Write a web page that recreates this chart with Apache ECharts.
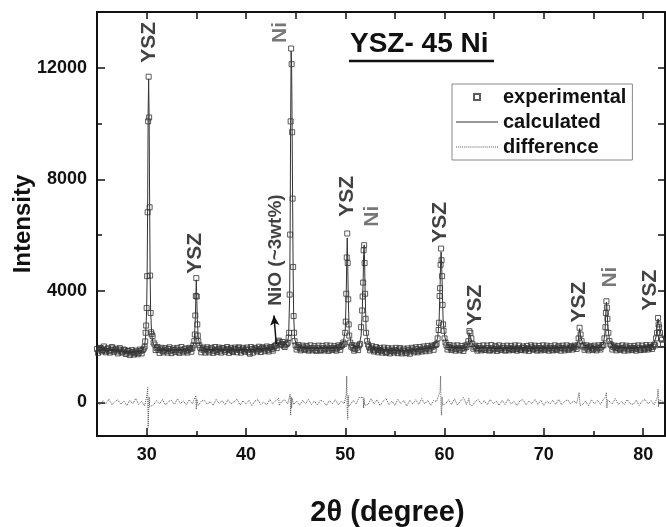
<!DOCTYPE html>
<html>
<head>
<meta charset="utf-8">
<title>YSZ- 45 Ni</title>
<script src="https://cdn.jsdelivr.net/npm/echarts@6/dist/echarts.min.js"></script>
<style>
  html, body { margin: 0; padding: 0; background: #fff; }
  #main { width: 666px; height: 527px; }
</style>
</head>
<body>
<div id="main"></div>
<script>
// experimental scan, read on two interleaved 0.2 deg grids (25.0, 25.2 ... and 25.1, 25.3 ...)
var expStart = 25.0;
var expStart2 = 25.1;
var expStep = 0.2;
var expGrid = [
  1920, 1870, 1950, 1890, 1860,
  1910, 1850, 1880, 1940, 1870,
  1830, 1900, 1860, 1820, 1880,
  1790, 1840, 1760, 1810, 1770,
  1820, 1780, 1850, 1880, 2000,
  3390, 11680, 3210, 2380, 2080,
  1950, 1880, 1910, 1850, 1890,
  1860, 1920, 1840, 1880, 1870,
  1900, 1830, 1890, 1860, 1910,
  1850, 1880, 1920, 1950, 2200,
  4460, 2200, 1960, 1900, 1870,
  1920, 1860, 1890, 1930, 1850,
  1880, 1910, 1860, 1940, 1890,
  1870, 1920, 1880, 1850, 1910,
  1890, 1940, 1870, 1900, 1860,
  1910, 1880, 1750, 1920, 1890,
  1930, 1870, 1910, 1950, 1900,
  1940, 1890, 1960, 1920, 1980,
  2050, 2140, 2180, 2100, 2040,
  2080, 2140, 3870, 12130, 3100,
  2050, 1990, 1960, 1930, 1980,
  1920, 1970, 1900, 1950, 1940,
  1890, 1960, 1930, 1880, 1950,
  1920, 1970, 1900, 1940, 1960,
  1910, 1950, 1990, 2020, 2150,
  2500, 6060, 2400, 2000, 1950,
  1920, 1970, 2050, 2700, 4300,
  3900, 2200, 1990, 1940, 1900,
  1870, 1930, 1880, 1850, 1900,
  1860, 1810, 1890, 1850, 1830,
  1880, 1840, 1900, 1820, 1870,
  1850, 1790, 1880, 1840, 1900,
  1860, 1920, 1850, 1890, 1930,
  1900, 1950, 1910, 1970, 2000,
  2050, 2100, 2600, 4940, 3500,
  2300, 2050, 1990, 1960, 1930,
  1970, 1920, 1960, 1900, 1950,
  1940, 1990, 2200, 2500, 2100,
  2000, 1950, 1910, 1960, 1930,
  1900, 1960, 1940, 1890, 1950,
  1920, 1980, 1930, 1900, 1960,
  1940, 1890, 1960, 1930, 1910,
  1970, 1920, 1950, 1900, 1940,
  1960, 1910, 1950, 1930, 1980,
  1920, 1960, 1900, 1950, 1940,
  1910, 1970, 1930, 1960, 1900,
  1950, 1920, 1980, 1940, 1960,
  1930, 1970, 1910, 1950, 1990,
  1960, 2000, 2050, 2680, 2200,
  2050, 1970, 1930, 1990, 1950,
  1920, 1980, 1940, 1960, 2000,
  2050, 2700, 3000, 2200, 2050,
  1990, 1950, 1970, 1920, 1960,
  1930, 1980, 1940, 1910, 1960,
  1950, 1920, 1970, 1940, 1900,
  1960, 1930, 1980, 1950, 1990,
  2000, 2050, 2500, 2700, 2300,
  2100
];
var expGrid2 = [
  1780, 1960, 1830, 2010, 1800,
  1950, 1790, 1990, 1820, 1930,
  1760, 1950, 1790, 1900, 1740,
  1850, 1700, 1880, 1720, 1860,
  1730, 1900, 1760, 1930, 2500,
  6820, 7000, 2450, 2150, 1880,
  1990, 1780, 1960, 1800, 1950,
  1790, 1980, 1770, 1940, 1810,
  1960, 1780, 1990, 1800, 1940,
  1790, 1960, 1820, 2050, 3120,
  2800, 2050, 1800, 1970, 1790,
  1980, 1800, 1960, 1780, 1990,
  1810, 1970, 1790, 1950, 1820,
  1990, 1780, 1960, 1810, 1970,
  1800, 1980, 1790, 1960, 1820,
  1970, 1800, 1990, 1790, 1960,
  1830, 2000, 1810, 1980, 1840,
  2010, 1830, 1990, 1860, 2030,
  1950, 2220, 2060, 2170, 1990,
  2090, 2320, 10080, 7310, 2200,
  1900, 2060, 1870, 2040, 1880,
  2030, 1860, 2050, 1870, 2020,
  1850, 2040, 1860, 2030, 1870,
  2050, 1850, 2040, 1880, 2020,
  1860, 2050, 1890, 2060, 2100,
  3900, 3700, 2150, 2060, 1860,
  2040, 1880, 2100, 3300, 5640,
  2500, 2080, 1870, 2020, 1830,
  1990, 1800, 1960, 1790, 1970,
  1780, 1950, 1760, 1940, 1790,
  1960, 1770, 1950, 1760, 1930,
  1770, 1940, 1750, 1960, 1800,
  1980, 1800, 1990, 1830, 2010,
  1840, 2030, 1860, 2040, 1890,
  2060, 2300, 3820, 5100, 2570,
  2150, 1900, 2060, 1880, 2040,
  1860, 2050, 1870, 2030, 1850,
  2040, 2080, 2560, 2300, 1930,
  2040, 1860, 2030, 1870, 2050,
  1880, 2040, 1860, 2060, 1870,
  2030, 1850, 2050, 1890, 2020,
  1860, 2040, 1870, 2030, 1880,
  2050, 1860, 2040, 1880, 2010,
  1870, 2030, 1850, 2050, 1890,
  2040, 1860, 2030, 1870, 2050,
  1880, 2040, 1860, 2020, 1870,
  2050, 1880, 2030, 1860, 2040,
  1870, 2050, 1890, 2030, 1900,
  2040, 1920, 2300, 2440, 2010,
  1890, 2050, 1870, 2030, 1880,
  2040, 1870, 2050, 1900, 2060,
  2300, 3630, 2500, 2090, 1900,
  2040, 1870, 2030, 1880, 2050,
  1860, 2040, 1870, 2020, 1880,
  2030, 1860, 2050, 1880, 2040,
  1890, 2060, 1900, 2050, 1920,
  2080, 2300, 3030, 2500, 2250
];

// extra experimental points between grid steps on the peak flanks
var peakTheta = [
  29.85, 29.95, 30.05, 30.15, 30.25, 30.35, 30.45,
  34.85, 34.95, 35.05, 35.15,
  44.35, 44.45, 44.55, 44.65, 44.75, 44.85,
  50.05, 50.15, 50.25, 50.35,
  51.75, 51.85, 51.95, 52.05,
  59.45, 59.55, 59.65, 59.75, 59.85,
  76.25, 76.35,
  81.55
];
var peakCounts = [
  2190, 2760, 4530, 10080, 10220, 4550, 2520,
  2440, 3820, 3800, 2400,
  2500, 6020, 12690, 9690, 4860, 2500,
  2900, 5200, 5000, 2800,
  3800, 5460, 5000, 3000,
  2860, 4100, 5520, 4530, 2800,
  3210, 3400,
  2800
];

// calculated (fitted) profile
var calcTheta = [
  25, 26, 27, 28, 29, 29.6, 29.8, 29.9, 30.0, 30.05, 30.1, 30.15, 30.2, 30.25, 30.3, 30.35, 30.4, 30.5, 30.6, 30.8,
  31.2, 32, 33, 34, 34.6, 34.8, 34.9, 35.0, 35.1, 35.2, 35.4, 36, 38, 40, 42,
  43.0, 43.3, 43.6, 44.0, 44.2, 44.3, 44.4, 44.45, 44.5, 44.55, 44.6, 44.65, 44.7, 44.75, 44.8, 44.9, 45.1,
  46, 48, 49.5, 49.8, 50.0, 50.1, 50.15, 50.2, 50.25, 50.3, 50.4, 50.6, 51.0,
  51.4, 51.6, 51.7, 51.8, 51.85, 51.9, 51.95, 52.0, 52.1, 52.3, 52.6, 54, 56, 58,
  59.0, 59.3, 59.45, 59.55, 59.6, 59.65, 59.7, 59.75, 59.85, 60.0, 60.2, 60.6,
  62.2, 62.4, 62.5, 62.6, 62.8, 63.2, 66, 70,
  73.2, 73.45, 73.6, 73.75, 74.0, 75.5,
  76.0, 76.15, 76.25, 76.3, 76.35, 76.45, 76.6, 77.0, 79,
  81.0, 81.3, 81.45, 81.5, 81.6, 81.8, 82.2
];
var calcCounts = [
  1890, 1880, 1860, 1820, 1820, 1880, 2050, 2400, 3300, 4600, 7000, 10300, 11600, 10200, 7100, 4600, 3300, 2500, 2200, 2000,
  1900, 1880, 1880, 1880, 1950, 2200, 3000, 4400, 3000, 2300, 2000, 1900, 1900, 1900, 1930,
  2000, 2150, 2050, 2100, 2200, 2400, 3800, 6100, 10000, 12600, 12100, 9800, 7200, 4800, 3200, 2300, 2050,
  1950, 1950, 2000, 2150, 2600, 3900, 5100, 5900, 5000, 3800, 2500, 2100, 2000,
  2050, 2400, 3200, 4300, 5300, 5650, 5000, 4000, 2600, 2150, 2000, 1880, 1870, 1930,
  2050, 2300, 2900, 4200, 5000, 5400, 5000, 4400, 3000, 2400, 2100, 1980,
  1980, 2150, 2500, 2450, 2100, 1980, 1940, 1940,
  2000, 2200, 2650, 2300, 2050, 1970,
  2100, 2500, 3300, 3600, 3400, 2700, 2250, 2000, 1950,
  2050, 2350, 2900, 3000, 2800, 2450, 2200
];

// difference (observed - calculated): background read every 0.3 deg
var diffStart = 25.0;
var diffStep = 0.3;
var diffGrid = [
  40, -90, 70, -50, 120, -80, 30, 100, -60, 50,
  -110, 80, -40, 140, -70, 40, -120, 90, 20, -80,
  70, -50, 110, -90, 40, 80, -70, 130, -30, 50,
  -80, 100, -50, 60, -110, 50, 80, -60, 30, -100,
  110, -40, 70, -80, 100, -50, 30, 120, -90, 60,
  -50, 80, -110, 50, 100, -70, 20, -90, 110, -40,
  70, -80, 40, 100, -50, 130, -70, 50, -100, 80,
  -40, 110, -70, 50, -90, 80, 30, -110, 70, -50,
  100, -80, 50, -40, 130, -90, 70, -50, 180, -120,
  80, -70, 140, -50, 100, -110, 40, 150, -80, 50,
  -100, 110, -40, 70, -120, 80, -50, 100, -70, 140,
  -50, 80, -100, 70, 40, -80, 110, -40, 100, -70,
  130, -90, 50, 180, -70, 80, -110, 40, 100, -50,
  70, -80, 110, -40, 50, -100, 80, -70, 130, -50,
  40, -110, 70, 100, -80, 50, -40, 110, -70, 80,
  -100, 50, -50, 80, -70, 110, -80, 40, 100, -50,
  70, -40, 130, -80, 50, -110, 100, -50, 80, -70,
  110, -100, 70, -50, 140, -70, 40, -80, 100, -40,
  -70, 80, -100, 50, 110, -50, 70, -80, 130, -70,
  40
];
// difference spikes at the reflections
var spikeTheta = [
  30.05, 30.1, 30.15, 30.2, 30.25, 30.3,
  34.95, 35.0, 35.05,
  43.3, 43.35,
  44.45, 44.5, 44.55, 44.6, 44.65,
  50.1, 50.15, 50.2, 50.25, 50.3, 50.35,
  51.8, 51.85, 51.9, 51.95,
  59.55, 59.6, 59.65, 59.7, 59.75, 59.8,
  62.45, 62.55,
  73.55, 73.65,
  76.2, 76.3, 76.35, 76.4,
  81.45, 81.5, 81.55, 81.6
];
var spikeDiff = [
  300, 540, -890, -300, 200, -150,
  250, -240, 120,
  150, -100,
  300, -460, 200, -200, 150,
  300, 950, -300, -600, 250, -150,
  180, -200, 150, -100,
  400, 950, -200, -460, 200, -100,
  150, -80,
  360, -100,
  200, 360, -200, 100,
  200, 480, -150, 100
];

// phase labels (x at label centre, y at label foot)
var labelText = ['YSZ', 'YSZ', 'NiO (~3wt%)', 'Ni', 'YSZ', 'Ni', 'YSZ', 'YSZ', 'YSZ', 'Ni', 'YSZ'];
var labelTheta = [30.25, 34.84, 43.0, 43.4, 50.21, 52.73, 59.59, 63.12, 73.6, 76.72, 80.76];
var labelCounts = [12180, 4620, 3470, 12890, 6660, 6300, 5730, 2760, 2865, 4120, 3295];
var arrowFrom = [43.05, 2100];
var arrowTo = [42.82, 3120];

var xLabelTicks = [30, 40, 50, 60, 70, 80];
var xMinorTicks = [35, 45, 55, 65, 75];
var xTopTicks = [30, 35, 40, 45, 50, 55, 60, 65, 70, 75, 80];
var yLabelTicks = [0, 4000, 8000, 12000];
var yMinorTicks = [2000, 6000, 10000];
var yRightTicks = [0, 2000, 4000, 6000, 8000, 10000, 12000];

var FONT = 'Liberation Sans, Arial, sans-serif';
var INK = '#111';

function r2(v) { return Math.round(v * 100) / 100; }

var expData = [];
expGrid.forEach(function (c, i) { expData.push([r2(expStart + i * expStep), c]); });
expGrid2.forEach(function (c, i) { expData.push([r2(expStart2 + i * expStep), c]); });
peakTheta.forEach(function (t, i) { expData.push([t, peakCounts[i]]); });

var calcData = calcTheta.map(function (t, i) { return [t, calcCounts[i]]; });

var diffData = [];
diffGrid.forEach(function (d, i) {
  var t = r2(diffStart + i * diffStep);
  var near = spikeTheta.some(function (s) { return Math.abs(s - t) < 0.12; });
  if (!near) diffData.push([t, d]);
});
spikeTheta.forEach(function (t, i) { diffData.push([t, spikeDiff[i]]); });
diffData.sort(function (a, b) { return a[0] - b[0]; });

var labelData = labelText.map(function (txt, i) {
  return {
    value: [labelTheta[i], labelCounts[i], txt],
    label: {
      color: txt === 'Ni' ? '#555' : INK,
      fontSize: txt.length > 4 ? 19 : 21
    }
  };
});

// legend icons: small square, solid rule, dotted rule
var dots = '';
for (var k = 0; k < 21; k++) dots += 'M' + (2 * k) + ',0h1v1h-1z';
var iconSquare = 'path://M0,0h10v10h-10z';
var iconSolid = 'path://M0,0h42v1h-42z';
var iconDotted = 'path://' + dots;

var xMin = 25, xMax = 82.2, yMin = -1200, yMax = 14000;

function tickOnly(pos, vals, len, isX) {
  return {
    type: 'value', min: isX ? xMin : yMin, max: isX ? xMax : yMax, position: pos,
    axisLine: { show: true, onZero: false, lineStyle: { color: INK, width: 2 } },
    axisTick: { show: true, inside: true, length: len, customValues: vals, lineStyle: { color: INK, width: 1.5 } },
    axisLabel: { show: false },
    splitLine: { show: false }
  };
}

var chart = echarts.init(document.getElementById('main'));
chart.setOption({
  animation: false,
  backgroundColor: '#fff',
  grid: { left: 97, right: 1, top: 12, bottom: 91, containLabel: false, outerBoundsMode: 'none' },
  xAxis: [
    {
      type: 'value', min: xMin, max: xMax, position: 'bottom',
      axisLine: { show: true, onZero: false, lineStyle: { color: INK, width: 2 } },
      axisTick: { show: true, inside: true, length: 8, customValues: xLabelTicks, lineStyle: { color: INK, width: 1.5 } },
      axisLabel: {
        customValues: xLabelTicks, fontSize: 18, fontWeight: 'bold', color: INK, fontFamily: FONT, margin: 10,
        formatter: function (v) { return String(v); }
      },
      splitLine: { show: false },
      name: '2θ (degree)', nameLocation: 'middle', nameGap: 62, nameMoveOverlap: false,
      nameTextStyle: { fontSize: 29, fontWeight: 'bold', color: INK, fontFamily: FONT, padding: [0, 0, 0, 13] }
    },
    tickOnly('bottom', xMinorTicks, 5, true),
    tickOnly('top', xTopTicks, 7, true)
  ],
  yAxis: [
    {
      type: 'value', min: yMin, max: yMax, position: 'left',
      axisLine: { show: true, onZero: false, lineStyle: { color: INK, width: 2 } },
      axisTick: { show: true, inside: true, length: 8, customValues: yLabelTicks, lineStyle: { color: INK, width: 1.5 } },
      axisLabel: {
        customValues: yLabelTicks, fontSize: 18, fontWeight: 'bold', color: INK, fontFamily: FONT, margin: 10,
        formatter: function (v) { return String(v); }
      },
      splitLine: { show: false },
      name: 'Intensity', nameLocation: 'middle', nameGap: 62, nameMoveOverlap: false,
      nameTextStyle: { fontSize: 24, fontWeight: 'bold', color: INK, fontFamily: FONT }
    },
    tickOnly('left', yMinorTicks, 5, false),
    tickOnly('right', yRightTicks, 7, false)
  ],
  legend: {
    orient: 'vertical', left: 452, top: 84,
    padding: [3, 6, 3, 4], itemGap: 5, itemWidth: 42, itemHeight: 6,
    borderColor: '#888', borderWidth: 1,
    textStyle: { fontSize: 20, fontWeight: 'bold', color: INK, fontFamily: FONT },
    data: [
      { name: 'experimental', icon: iconSquare },
      { name: 'calculated', icon: iconSolid },
      { name: 'difference', icon: iconDotted }
    ]
  },
  graphic: [
    {
      type: 'text', left: 350, top: 30,
      style: { text: 'YSZ- 45 Ni', font: 'bold 28px ' + FONT, fill: INK }
    },
    {
      type: 'line', shape: { x1: 349, y1: 61, x2: 494, y2: 61 },
      style: { stroke: INK, lineWidth: 2.5 }
    }
  ],
  series: [
    {
      name: 'difference', type: 'line', data: diffData,
      symbol: 'none', showSymbol: false,
      lineStyle: { color: '#555', width: 1, type: [1, 1] },
      itemStyle: { color: '#555' }, z: 2
    },
    {
      name: 'calculated', type: 'line', data: calcData,
      symbol: 'none', showSymbol: false,
      lineStyle: { color: '#333', width: 1 },
      itemStyle: { color: '#333' }, z: 3
    },
    {
      name: 'experimental', type: 'scatter', data: expData,
      symbol: 'rect', symbolSize: 5,
      itemStyle: { color: 'rgba(0,0,0,0)', borderColor: '#333', borderWidth: 1 }, z: 4
    },
    {
      name: 'labels', type: 'scatter', data: labelData, symbolSize: 0, silent: true,
      label: {
        show: true, position: [0, 0], rotate: 90, align: 'left', verticalAlign: 'middle',
        fontWeight: 'bold', fontFamily: FONT,
        formatter: function (p) { return p.value[2]; }
      },
      markLine: {
        silent: true, symbol: ['none', 'arrow'], symbolSize: [7, 10],
        label: { show: false },
        lineStyle: { color: INK, width: 1.5, type: 'solid' },
        data: [[{ coord: arrowFrom }, { coord: arrowTo }]]
      },
      z: 5
    }
  ]
});
</script>
</body>
</html>
